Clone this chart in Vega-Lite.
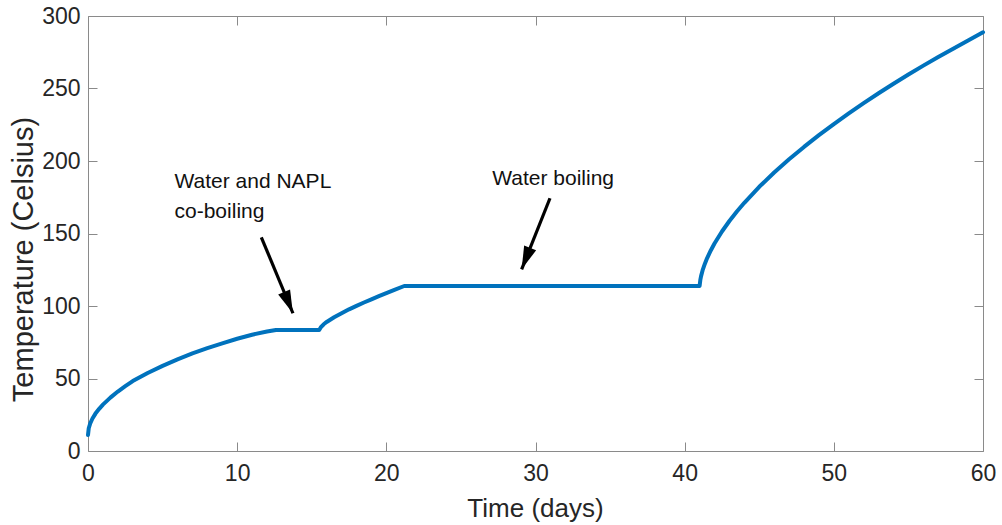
{
  "$schema": "https://vega.github.io/schema/vega-lite/v6.json",
  "width": 895,
  "height": 435,
  "autosize": {"type": "none"},
  "padding": {"left": 88, "top": 16, "right": 19, "bottom": 74},
  "background": "white",
  "config": {
    "view": {"stroke": null},
    "font": "Liberation Sans",
    "axis": {
      "domainColor": "#8a8a8a",
      "tickColor": "#8a8a8a",
      "domainWidth": 1,
      "tickWidth": 1,
      "tickSize": -9,
      "grid": false,
      "labelFlush": false,
      "labelOverlap": false,
      "labelFont": "Liberation Sans",
      "labelFontSize": 23,
      "labelColor": "#262626",
      "titleFont": "Liberation Sans",
      "titleFontWeight": "normal",
      "titleColor": "#262626"
    }
  },
  "datasets": {
    "temperature": [
      {"t": 0, "T": 11},
      {"t": 0.05, "T": 15.7},
      {"t": 0.15, "T": 19.1},
      {"t": 0.3, "T": 22.4},
      {"t": 0.5, "T": 25.8},
      {"t": 0.75, "T": 29.1},
      {"t": 1, "T": 32},
      {"t": 1.5, "T": 36.8},
      {"t": 2, "T": 41},
      {"t": 2.5, "T": 44.7},
      {"t": 3, "T": 48.2},
      {"t": 4, "T": 53.8},
      {"t": 5, "T": 58.7},
      {"t": 6, "T": 63.2},
      {"t": 7, "T": 67.3},
      {"t": 8, "T": 70.9},
      {"t": 9, "T": 74.2},
      {"t": 10, "T": 77.4},
      {"t": 11, "T": 80.2},
      {"t": 12, "T": 82.4},
      {"t": 12.6, "T": 83.5},
      {"t": 15.5, "T": 83.5},
      {"t": 15.6, "T": 85.2},
      {"t": 15.8, "T": 87.4},
      {"t": 16, "T": 89},
      {"t": 16.5, "T": 92.2},
      {"t": 17, "T": 95},
      {"t": 17.5, "T": 97.7},
      {"t": 18, "T": 100.1},
      {"t": 18.5, "T": 102.4},
      {"t": 19, "T": 104.6},
      {"t": 19.5, "T": 106.8},
      {"t": 20, "T": 108.9},
      {"t": 20.5, "T": 111},
      {"t": 21.2, "T": 113.8},
      {"t": 41, "T": 113.8},
      {"t": 41.05, "T": 118},
      {"t": 41.1, "T": 120.6},
      {"t": 41.2, "T": 124.5},
      {"t": 41.35, "T": 129},
      {"t": 41.5, "T": 132.9},
      {"t": 41.75, "T": 138.3},
      {"t": 42, "T": 143.1},
      {"t": 42.5, "T": 151.4},
      {"t": 43, "T": 158.6},
      {"t": 43.5, "T": 165.2},
      {"t": 44, "T": 171.2},
      {"t": 45, "T": 182.2},
      {"t": 46, "T": 192.1},
      {"t": 47, "T": 201.2},
      {"t": 48, "T": 209.7},
      {"t": 49, "T": 217.8},
      {"t": 50, "T": 225.5},
      {"t": 51, "T": 232.8},
      {"t": 52, "T": 239.9},
      {"t": 53, "T": 246.7},
      {"t": 54, "T": 253.3},
      {"t": 55, "T": 259.6},
      {"t": 56, "T": 265.8},
      {"t": 57, "T": 271.7},
      {"t": 58, "T": 277.4},
      {"t": 59, "T": 283.1},
      {"t": 60, "T": 288.8}
    ],
    "arrows": [
      {"name": "co-boiling", "t0": 11.62, "T0": 147.4, "t1": 13.74, "T1": 95.0},
      {"name": "water", "t0": 30.97, "T0": 174.3, "t1": 29.07, "T1": 125.3}
    ],
    "notes": [
      {"t": 5.8, "T": 181.2, "label": "Water and NAPL"},
      {"t": 5.8, "T": 160.7, "label": "co-boiling"},
      {"t": 27.1, "T": 183.4, "label": "Water boiling"}
    ]
  },
  "resolve": {"axis": {"x": "independent", "y": "independent"}},
  "layer": [
    {
      "data": {"name": "temperature"},
      "mark": {"type": "line", "color": "#0072BD", "strokeWidth": 4, "strokeJoin": "round", "strokeCap": "round"},
      "encoding": {
        "x": {
          "field": "t", "type": "quantitative",
          "scale": {"domain": [0, 60], "nice": false, "zero": false},
          "axis": {"orient": "bottom", "values": [0, 10, 20, 30, 40, 50, 60], "title": "Time (days)",
                   "titleFontSize": 26, "labelPadding": 20, "titleX": 447, "titleY": 65, "titleBaseline": "alphabetic"}
        },
        "y": {
          "field": "T", "type": "quantitative",
          "scale": {"domain": [0, 300], "nice": false, "zero": false},
          "axis": {"orient": "left", "values": [0, 50, 100, 150, 200, 250, 300], "title": "Temperature (Celsius)",
                   "titleFontSize": 29, "labelPadding": 17, "titleX": -65, "titleY": 243,
                   "titleAngle": -90, "titleAlign": "center", "titleBaseline": "middle"}
        }
      }
    },
    {
      "data": {"name": "arrows"},
      "mark": {"type": "rule", "color": "black", "strokeWidth": 3.2},
      "encoding": {
        "x": {"field": "t0", "type": "quantitative",
              "axis": {"orient": "top", "values": [0, 10, 20, 30, 40, 50, 60], "labels": false, "title": null}},
        "y": {"field": "T0", "type": "quantitative",
              "axis": {"orient": "right", "values": [0, 50, 100, 150, 200, 250, 300], "labels": false, "title": null}},
        "x2": {"field": "t1"},
        "y2": {"field": "T1"}
      }
    },
    {
      "data": {"name": "arrows"},
      "transform": [{"filter": "datum.name === 'co-boiling'"}],
      "mark": {"type": "point", "shape": "M0,0 L0.28,1 L-0.28,1 Z", "filled": true, "color": "black", "opacity": 1, "size": 2116, "angle": 157.4},
      "encoding": {
        "x": {"field": "t1", "type": "quantitative", "axis": null},
        "y": {"field": "T1", "type": "quantitative", "axis": null}
      }
    },
    {
      "data": {"name": "arrows"},
      "transform": [{"filter": "datum.name === 'water'"}],
      "mark": {"type": "point", "shape": "M0,0 L0.28,1 L-0.28,1 Z", "filled": true, "color": "black", "opacity": 1, "size": 2116, "angle": 201.7},
      "encoding": {
        "x": {"field": "t1", "type": "quantitative", "axis": null},
        "y": {"field": "T1", "type": "quantitative", "axis": null}
      }
    },
    {
      "data": {"name": "notes"},
      "mark": {"type": "text", "align": "left", "baseline": "alphabetic", "fontSize": 21, "color": "#111111", "font": "Liberation Sans"},
      "encoding": {
        "x": {"field": "t", "type": "quantitative", "axis": null},
        "y": {"field": "T", "type": "quantitative", "axis": null},
        "text": {"field": "label"}
      }
    }
  ]
}
